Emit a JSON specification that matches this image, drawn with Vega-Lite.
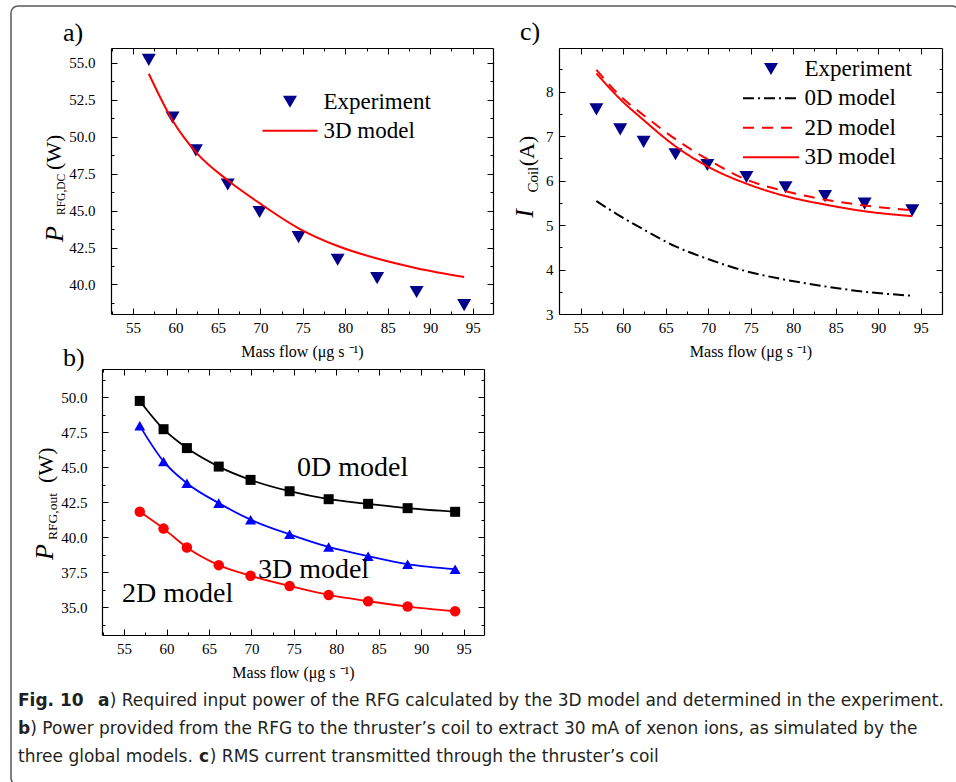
{
  "$schema": "https://vega.github.io/schema/vega-lite/v6.json",
  "width": 948,
  "height": 779,
  "autosize": {"type": "none"},
  "padding": {"left": 11, "top": 6, "right": -3, "bottom": -3},
  "config": {
    "view": {"stroke": "#58595b", "strokeWidth": 1.5, "cornerRadius": 7},
    "font": "Liberation Serif",
    "style": {"guide-label": {"font": "Liberation Serif", "fontSize": 15, "fill": "black"}, "guide-title": {"font": "Liberation Serif", "fontSize": 16, "fontWeight": "normal", "fill": "black"}},
    "axis": {"domainColor": "black", "domainWidth": 1.2, "tickColor": "black", "tickWidth": 1, "grid": false, "labelFont": "Liberation Serif", "labelFontSize": 15, "labelColor": "black", "labelFlush": false, "labelOverlap": false, "titleFont": "Liberation Serif", "titleFontSize": 16, "titleFontWeight": "normal", "titleColor": "black"},
    "legend": {"labelFont": "Liberation Serif", "labelFontSize": 23, "labelColor": "black", "labelLimit": 400}
  },
  "datasets": {
    "a": [
      {"series": "Experiment", "flow": 56.85, "value": 55.2},
      {"series": "Experiment", "flow": 59.65, "value": 51.3},
      {"series": "Experiment", "flow": 62.4, "value": 49.07},
      {"series": "Experiment", "flow": 66.15, "value": 46.76},
      {"series": "Experiment", "flow": 69.9, "value": 44.9},
      {"series": "Experiment", "flow": 74.5, "value": 43.2},
      {"series": "Experiment", "flow": 79.1, "value": 41.67},
      {"series": "Experiment", "flow": 83.75, "value": 40.43},
      {"series": "Experiment", "flow": 88.4, "value": 39.49},
      {"series": "Experiment", "flow": 94.0, "value": 38.6},
      {"series": "3D model", "flow": 56.85, "value": 54.26},
      {"series": "3D model", "flow": 59.65, "value": 51.1},
      {"series": "3D model", "flow": 62.4, "value": 48.96},
      {"series": "3D model", "flow": 66.15, "value": 47.05},
      {"series": "3D model", "flow": 69.9, "value": 45.5},
      {"series": "3D model", "flow": 74.5, "value": 43.8},
      {"series": "3D model", "flow": 79.1, "value": 42.6},
      {"series": "3D model", "flow": 83.75, "value": 41.75},
      {"series": "3D model", "flow": 88.4, "value": 41.1},
      {"series": "3D model", "flow": 94.0, "value": 40.5}
    ],
    "c": [
      {"series": "Experiment", "flow": 56.85, "value": 7.6},
      {"series": "Experiment", "flow": 59.65, "value": 7.15},
      {"series": "Experiment", "flow": 62.4, "value": 6.87},
      {"series": "Experiment", "flow": 66.15, "value": 6.59},
      {"series": "Experiment", "flow": 69.9, "value": 6.35},
      {"series": "Experiment", "flow": 74.5, "value": 6.08},
      {"series": "Experiment", "flow": 79.1, "value": 5.85},
      {"series": "Experiment", "flow": 83.75, "value": 5.65},
      {"series": "Experiment", "flow": 88.4, "value": 5.48},
      {"series": "Experiment", "flow": 94.0, "value": 5.33},
      {"series": "0D model", "flow": 56.85, "value": 5.54},
      {"series": "0D model", "flow": 59.65, "value": 5.2},
      {"series": "0D model", "flow": 62.4, "value": 4.9},
      {"series": "0D model", "flow": 66.15, "value": 4.52},
      {"series": "0D model", "flow": 69.9, "value": 4.24},
      {"series": "0D model", "flow": 74.5, "value": 3.96},
      {"series": "0D model", "flow": 79.1, "value": 3.77},
      {"series": "0D model", "flow": 83.75, "value": 3.62},
      {"series": "0D model", "flow": 88.4, "value": 3.5},
      {"series": "0D model", "flow": 94.0, "value": 3.41},
      {"series": "2D model", "flow": 56.85, "value": 8.49},
      {"series": "2D model", "flow": 59.65, "value": 7.9},
      {"series": "2D model", "flow": 62.4, "value": 7.47},
      {"series": "2D model", "flow": 66.15, "value": 6.93},
      {"series": "2D model", "flow": 69.9, "value": 6.48},
      {"series": "2D model", "flow": 74.5, "value": 6.02},
      {"series": "2D model", "flow": 79.1, "value": 5.76},
      {"series": "2D model", "flow": 83.75, "value": 5.57},
      {"series": "2D model", "flow": 88.4, "value": 5.44},
      {"series": "2D model", "flow": 94.0, "value": 5.33},
      {"series": "3D model", "flow": 56.85, "value": 8.41},
      {"series": "3D model", "flow": 59.65, "value": 7.83},
      {"series": "3D model", "flow": 62.4, "value": 7.36},
      {"series": "3D model", "flow": 66.15, "value": 6.77},
      {"series": "3D model", "flow": 69.9, "value": 6.32},
      {"series": "3D model", "flow": 74.5, "value": 5.93},
      {"series": "3D model", "flow": 79.1, "value": 5.65},
      {"series": "3D model", "flow": 83.75, "value": 5.46},
      {"series": "3D model", "flow": 88.4, "value": 5.31},
      {"series": "3D model", "flow": 94.0, "value": 5.2}
    ],
    "b": [
      {"series": "0D model", "flow": 56.85, "value": 49.72},
      {"series": "0D model", "flow": 59.65, "value": 47.7},
      {"series": "0D model", "flow": 62.4, "value": 46.35},
      {"series": "0D model", "flow": 66.15, "value": 45.03},
      {"series": "0D model", "flow": 69.9, "value": 44.08},
      {"series": "0D model", "flow": 74.5, "value": 43.27},
      {"series": "0D model", "flow": 79.1, "value": 42.7},
      {"series": "0D model", "flow": 83.75, "value": 42.37},
      {"series": "0D model", "flow": 88.4, "value": 42.06},
      {"series": "0D model", "flow": 94.0, "value": 41.8},
      {"series": "3D model", "flow": 56.85, "value": 47.94},
      {"series": "3D model", "flow": 59.65, "value": 45.4},
      {"series": "3D model", "flow": 62.4, "value": 43.84},
      {"series": "3D model", "flow": 66.15, "value": 42.42},
      {"series": "3D model", "flow": 69.9, "value": 41.24},
      {"series": "3D model", "flow": 74.5, "value": 40.19},
      {"series": "3D model", "flow": 79.1, "value": 39.29},
      {"series": "3D model", "flow": 83.75, "value": 38.63},
      {"series": "3D model", "flow": 88.4, "value": 38.06},
      {"series": "3D model", "flow": 94.0, "value": 37.7},
      {"series": "2D model", "flow": 56.85, "value": 41.8},
      {"series": "2D model", "flow": 59.65, "value": 40.6},
      {"series": "2D model", "flow": 62.4, "value": 39.25},
      {"series": "2D model", "flow": 66.15, "value": 37.99},
      {"series": "2D model", "flow": 69.9, "value": 37.23},
      {"series": "2D model", "flow": 74.5, "value": 36.5},
      {"series": "2D model", "flow": 79.1, "value": 35.86},
      {"series": "2D model", "flow": 83.75, "value": 35.41},
      {"series": "2D model", "flow": 88.4, "value": 35.03},
      {"series": "2D model", "flow": 94.0, "value": 34.7}
    ],
    "notes": [
      {"panel": "a", "role": "label", "text": "a)", "x": 46.75, "y": 56.47},
      {"panel": "a", "role": "symbol", "text": "P", "x": 46.71, "y": 42.87},
      {"panel": "a", "role": "sub", "text": "RFG,DC", "x": 46.98, "y": 44.7},
      {"panel": "a", "role": "unit", "text": "(W)", "x": 46.51, "y": 47.74},
      {"panel": "c", "role": "label", "text": "c)", "x": 47.86, "y": 9.16},
      {"panel": "c", "role": "symbol", "text": "I", "x": 49.39, "y": 5.166},
      {"panel": "c", "role": "sub", "text": "Coil", "x": 49.98, "y": 5.73},
      {"panel": "c", "role": "unit", "text": "(A)", "x": 49.51, "y": 6.32},
      {"panel": "b", "role": "label", "text": "b)", "x": 47.81, "y": 52.21},
      {"panel": "b", "role": "symbol", "text": "P", "x": 46.63, "y": 38.36},
      {"panel": "b", "role": "sub", "text": "RFG,out", "x": 47.1, "y": 39.79},
      {"panel": "b", "role": "unit", "text": "(W)", "x": 46.63, "y": 43.86},
      {"panel": "b", "role": "series", "text": "0D model", "x": 75.37, "y": 44.36},
      {"panel": "b", "role": "series", "text": "3D model", "x": 70.77, "y": 37.07},
      {"panel": "b", "role": "series", "text": "2D model", "x": 54.76, "y": 35.36}
    ],
    "caption": [
      {"line": 1, "part": "fig", "text": "Fig. 10"},
      {"line": 1, "part": "key", "text": "a"},
      {"line": 1, "part": "body", "text": ") Required input power of the RFG calculated by the 3D model and determined in the experiment."},
      {"line": 2, "part": "key", "text": "b"},
      {"line": 2, "part": "body", "text": ") Power provided from the RFG to the thruster’s coil to extract 30 mA of xenon ions, as simulated by the"},
      {"line": 3, "part": "lead", "text": "three global models."},
      {"line": 3, "part": "key", "text": "c"},
      {"line": 3, "part": "body", "text": ") RMS current transmitted through the thruster’s coil"}
    ]
  },
  "layer": [
    {
      "layer": [
        {
          "data": {"name": "a"},
          "transform": [{"filter": "datum.series === 'Experiment'"}],
          "mark": {"type": "point", "shape": "triangle-down", "filled": true, "size": 196, "opacity": 1},
          "encoding": {
            "x": {"field": "flow", "type": "quantitative", "scale": {"domain": [52.4, 97.4], "range": [100, 482], "nice": false, "zero": false},
              "axis": {"orient": "bottom", "offset": -471, "values": [55, 60, 65, 70, 75, 80, 85, 90, 95], "tickSize": -6, "format": "d", "labelFont": "Liberation Serif", "labelFontSize": 15, "labelPadding": 12, "encode": {"labels": {"font": {"value": "Liberation Serif"}, "fontSize": {"value": 15}}}, "title": "Mass flow (μg s ⁻¹)", "titleFont": "Liberation Serif", "titleFontSize": 16, "titlePadding": 8}},
            "y": {"field": "value", "type": "quantitative", "scale": {"domain": [38, 56], "range": [308, 42], "nice": false, "zero": false},
              "axis": {"orient": "left", "offset": -100, "values": [40, 42.5, 45, 47.5, 50, 52.5, 55], "tickSize": -6, "format": ".1f", "labelFont": "Liberation Serif", "labelFontSize": 15, "labelPadding": 22, "encode": {"labels": {"font": {"value": "Liberation Serif"}, "fontSize": {"value": 15}}}, "title": null}},
            "color": {"field": "series", "type": "nominal", "scale": {"domain": ["Experiment"], "range": ["#00008b"]},
              "legend": {"orient": "none", "legendX": 267.5, "legendY": 84.2, "title": null, "labelOffset": 22, "padding": 0, "symbolSize": 196, "symbolType": "triangle-down", "symbolStrokeWidth": 0}}
          }
        },
        {
          "data": {"name": "a"},
          "transform": [{"filter": "datum.series === '3D model'"}],
          "mark": {"type": "line", "strokeWidth": 2, "interpolate": "monotone"},
          "encoding": {
            "x": {"field": "flow", "type": "quantitative", "scale": {"domain": [52.4, 97.4], "range": [100, 482], "nice": false, "zero": false},
              "axis": {"orient": "top", "offset": -42, "values": [55, 60, 65, 70, 75, 80, 85, 90, 95], "tickSize": -6, "labels": false, "title": null}},
            "y": {"field": "value", "type": "quantitative", "scale": {"domain": [38, 56], "range": [308, 42], "nice": false, "zero": false},
              "axis": {"orient": "right", "offset": -466, "values": [40, 42.5, 45, 47.5, 50, 52.5, 55], "tickSize": -6, "labels": false, "title": null}},
            "stroke": {"field": "series", "type": "nominal", "scale": {"domain": ["3D model"], "range": ["#ff0000"]},
              "legend": {"orient": "none", "legendX": 267.5, "legendY": 113.2, "title": null, "labelOffset": 22, "padding": 0, "symbolSize": 400, "symbolType": "M-2.75,0L2.75,0", "symbolStrokeWidth": 2}}
          }
        },
        {
          "data": {"name": "notes"},
          "transform": [{"filter": "datum.panel === 'a' && datum.role === 'label'"}],
          "mark": {"type": "text", "font": "Liberation Serif", "fontSize": 26, "align": "left", "baseline": "alphabetic", "color": "black"},
          "encoding": {
            "x": {"field": "x", "type": "quantitative", "scale": {"domain": [52.4, 97.4], "range": [100, 482], "nice": false, "zero": false},
              "axis": {"orient": "bottom", "offset": -471, "values": [52.5, 57.5, 62.5, 67.5, 72.5, 77.5, 82.5, 87.5, 92.5], "tickSize": -3, "labels": false, "domain": false, "title": null}},
            "y": {"field": "y", "type": "quantitative", "scale": {"domain": [38, 56], "range": [308, 42], "nice": false, "zero": false},
              "axis": {"orient": "left", "offset": -100, "values": [38.75, 41.25, 43.75, 46.25, 48.75, 51.25, 53.75], "tickSize": -3, "labels": false, "domain": false, "title": null}},
            "text": {"field": "text"}
          }
        },
        {
          "data": {"name": "notes"},
          "transform": [{"filter": "datum.panel === 'a' && datum.role === 'symbol'"}],
          "mark": {"type": "text", "font": "Liberation Serif", "fontSize": 26, "fontStyle": "italic", "angle": 270, "align": "left", "baseline": "alphabetic", "color": "black"},
          "encoding": {
            "x": {"field": "x", "type": "quantitative",
              "axis": {"orient": "top", "offset": -42, "values": [52.5, 57.5, 62.5, 67.5, 72.5, 77.5, 82.5, 87.5, 92.5], "tickSize": -3, "labels": false, "domain": false, "title": null}},
            "y": {"field": "y", "type": "quantitative",
              "axis": {"orient": "right", "offset": -466, "values": [38.75, 41.25, 43.75, 46.25, 48.75, 51.25, 53.75], "tickSize": -3, "labels": false, "domain": false, "title": null}},
            "text": {"field": "text"}
          }
        },
        {
          "data": {"name": "notes"},
          "transform": [{"filter": "datum.panel === 'a' && datum.role === 'sub'"}],
          "mark": {"type": "text", "font": "Liberation Serif", "fontSize": 11.5, "angle": 270, "align": "left", "baseline": "alphabetic", "color": "black"},
          "encoding": {
            "x": {"field": "x", "type": "quantitative", "axis": null},
            "y": {"field": "y", "type": "quantitative", "axis": null},
            "text": {"field": "text"}
          }
        },
        {
          "data": {"name": "notes"},
          "transform": [{"filter": "datum.panel === 'a' && datum.role === 'unit'"}],
          "mark": {"type": "text", "font": "Liberation Serif", "fontSize": 22, "angle": 270, "align": "left", "baseline": "alphabetic", "color": "black"},
          "encoding": {
            "x": {"field": "x", "type": "quantitative", "axis": null},
            "y": {"field": "y", "type": "quantitative", "axis": null},
            "text": {"field": "text"}
          }
        }
      ],
      "resolve": {"axis": {"x": "independent", "y": "independent"}}
    },
    {
      "layer": [
        {
          "data": {"name": "c"},
          "transform": [{"filter": "datum.series === 'Experiment'"}],
          "mark": {"type": "point", "shape": "triangle-down", "filled": true, "size": 196, "opacity": 1},
          "encoding": {
            "x": {"field": "flow", "type": "quantitative", "scale": {"domain": [52.45, 97.5], "range": [548, 931], "nice": false, "zero": false},
              "axis": {"orient": "bottom", "offset": -471, "values": [55, 60, 65, 70, 75, 80, 85, 90, 95], "tickSize": -6, "format": "d", "labelFont": "Liberation Serif", "labelFontSize": 15, "labelPadding": 12, "encode": {"labels": {"font": {"value": "Liberation Serif"}, "fontSize": {"value": 15}}}, "title": "Mass flow (μg s ⁻¹)", "titleFont": "Liberation Serif", "titleFontSize": 16, "titlePadding": 8}},
            "y": {"field": "value", "type": "quantitative", "scale": {"domain": [3, 8.98], "range": [308, 42], "nice": false, "zero": false},
              "axis": {"orient": "left", "offset": -548, "values": [3, 4, 5, 6, 7, 8], "tickSize": -6, "format": "d", "labelFont": "Liberation Serif", "labelFontSize": 15, "labelPadding": 12, "encode": {"labels": {"font": {"value": "Liberation Serif"}, "fontSize": {"value": 15}}}, "title": null}},
            "color": {"field": "series", "type": "nominal", "scale": {"domain": ["Experiment"], "range": ["#00008b"]},
              "legend": {"orient": "none", "legendX": 748.5, "legendY": 51.5, "title": null, "labelOffset": 22, "padding": 0, "symbolSize": 196, "symbolType": "triangle-down", "symbolStrokeWidth": 0}}
          }
        },
        {
          "data": {"name": "c"},
          "transform": [{"filter": "datum.series !== 'Experiment'"}],
          "mark": {"type": "line", "strokeWidth": 2, "interpolate": "monotone"},
          "encoding": {
            "x": {"field": "flow", "type": "quantitative", "scale": {"domain": [52.45, 97.5], "range": [548, 931], "nice": false, "zero": false},
              "axis": {"orient": "top", "offset": -42, "values": [55, 60, 65, 70, 75, 80, 85, 90, 95], "tickSize": -6, "labels": false, "title": null}},
            "y": {"field": "value", "type": "quantitative", "scale": {"domain": [3, 8.98], "range": [308, 42], "nice": false, "zero": false},
              "axis": {"orient": "right", "offset": -17, "values": [3, 4, 5, 6, 7, 8], "tickSize": -6, "labels": false, "title": null}},
            "stroke": {"field": "series", "type": "nominal", "scale": {"domain": ["0D model", "2D model", "3D model"], "range": ["#000000", "#ff0000", "#ff0000"]},
              "legend": {"orient": "none", "legendX": 748.5, "legendY": 80.8, "title": null, "labelOffset": 22, "rowPadding": 5.5, "padding": 0, "symbolSize": 400, "symbolType": "M-2.8,0L2.8,0", "symbolStrokeWidth": 2}},
            "strokeDash": {"field": "series", "type": "nominal", "scale": {"domain": ["0D model", "2D model", "3D model"], "range": [[11, 4, 2, 4], [11, 8], [1, 0]]},
              "legend": {"orient": "none", "legendX": 748.5, "legendY": 80.8, "title": null, "labelOffset": 22, "rowPadding": 5.5, "padding": 0, "symbolSize": 400, "symbolType": "M-2.8,0L2.8,0", "symbolStrokeWidth": 2}}
          }
        },
        {
          "data": {"name": "notes"},
          "transform": [{"filter": "datum.panel === 'c' && datum.role === 'label'"}],
          "mark": {"type": "text", "font": "Liberation Serif", "fontSize": 26, "align": "left", "baseline": "alphabetic", "color": "black"},
          "encoding": {
            "x": {"field": "x", "type": "quantitative", "scale": {"domain": [52.45, 97.5], "range": [548, 931], "nice": false, "zero": false},
              "axis": {"orient": "bottom", "offset": -471, "values": [52.5, 57.5, 62.5, 67.5, 72.5, 77.5, 82.5, 87.5, 92.5], "tickSize": -3, "labels": false, "domain": false, "title": null}},
            "y": {"field": "y", "type": "quantitative", "scale": {"domain": [3, 8.98], "range": [308, 42], "nice": false, "zero": false},
              "axis": {"orient": "left", "offset": -548, "values": [3.5, 4.5, 5.5, 6.5, 7.5, 8.5], "tickSize": -3, "labels": false, "domain": false, "title": null}},
            "text": {"field": "text"}
          }
        },
        {
          "data": {"name": "notes"},
          "transform": [{"filter": "datum.panel === 'c' && datum.role === 'symbol'"}],
          "mark": {"type": "text", "font": "Liberation Serif", "fontSize": 26, "fontStyle": "italic", "angle": 270, "align": "left", "baseline": "alphabetic", "color": "black"},
          "encoding": {
            "x": {"field": "x", "type": "quantitative",
              "axis": {"orient": "top", "offset": -42, "values": [52.5, 57.5, 62.5, 67.5, 72.5, 77.5, 82.5, 87.5, 92.5], "tickSize": -3, "labels": false, "domain": false, "title": null}},
            "y": {"field": "y", "type": "quantitative",
              "axis": {"orient": "right", "offset": -17, "values": [3.5, 4.5, 5.5, 6.5, 7.5, 8.5], "tickSize": -3, "labels": false, "domain": false, "title": null}},
            "text": {"field": "text"}
          }
        },
        {
          "data": {"name": "notes"},
          "transform": [{"filter": "datum.panel === 'c' && datum.role === 'sub'"}],
          "mark": {"type": "text", "font": "Liberation Serif", "fontSize": 15, "angle": 270, "align": "left", "baseline": "alphabetic", "color": "black"},
          "encoding": {
            "x": {"field": "x", "type": "quantitative", "axis": null},
            "y": {"field": "y", "type": "quantitative", "axis": null},
            "text": {"field": "text"}
          }
        },
        {
          "data": {"name": "notes"},
          "transform": [{"filter": "datum.panel === 'c' && datum.role === 'unit'"}],
          "mark": {"type": "text", "font": "Liberation Serif", "fontSize": 22, "angle": 270, "align": "left", "baseline": "alphabetic", "color": "black"},
          "encoding": {
            "x": {"field": "x", "type": "quantitative", "axis": null},
            "y": {"field": "y", "type": "quantitative", "axis": null},
            "text": {"field": "text"}
          }
        }
      ],
      "resolve": {"axis": {"x": "independent", "y": "independent"}}
    },
    {
      "layer": [
        {
          "data": {"name": "b"},
          "mark": {"type": "line", "strokeWidth": 1.8, "interpolate": "monotone"},
          "encoding": {
            "x": {"field": "flow", "type": "quantitative", "scale": {"domain": [52.4, 97.4], "range": [91, 473], "nice": false, "zero": false},
              "axis": {"orient": "bottom", "offset": -150, "values": [55, 60, 65, 70, 75, 80, 85, 90, 95], "tickSize": -6, "format": "d", "labelFont": "Liberation Serif", "labelFontSize": 15, "labelPadding": 12, "encode": {"labels": {"font": {"value": "Liberation Serif"}, "fontSize": {"value": 15}}}, "title": "Mass flow (μg s ⁻¹)", "titleFont": "Liberation Serif", "titleFontSize": 16, "titlePadding": 8}},
            "y": {"field": "value", "type": "quantitative", "scale": {"domain": [33, 52], "range": [629, 363], "nice": false, "zero": false},
              "axis": {"orient": "left", "offset": -91, "values": [35, 37.5, 40, 42.5, 45, 47.5, 50], "tickSize": -6, "format": ".1f", "labelFont": "Liberation Serif", "labelFontSize": 15, "labelPadding": 21, "encode": {"labels": {"font": {"value": "Liberation Serif"}, "fontSize": {"value": 15}}}, "title": null}},
            "color": {"field": "series", "type": "nominal", "scale": {"domain": ["0D model", "2D model", "3D model"], "range": ["#000000", "#ff0000", "#0000ff"]}, "legend": null}
          }
        },
        {
          "data": {"name": "b"},
          "mark": {"type": "point", "filled": true, "opacity": 1},
          "encoding": {
            "x": {"field": "flow", "type": "quantitative", "scale": {"domain": [52.4, 97.4], "range": [91, 473], "nice": false, "zero": false},
              "axis": {"orient": "top", "offset": -363, "values": [55, 60, 65, 70, 75, 80, 85, 90, 95], "tickSize": -6, "labels": false, "title": null}},
            "y": {"field": "value", "type": "quantitative", "scale": {"domain": [33, 52], "range": [629, 363], "nice": false, "zero": false},
              "axis": {"orient": "right", "offset": -475, "values": [35, 37.5, 40, 42.5, 45, 47.5, 50], "tickSize": -6, "labels": false, "title": null}},
            "color": {"field": "series", "type": "nominal", "scale": {"domain": ["0D model", "2D model", "3D model"], "range": ["#000000", "#ff0000", "#0000ff"]}, "legend": null},
            "shape": {"field": "series", "type": "nominal", "scale": {"domain": ["0D model", "2D model", "3D model"], "range": ["square", "circle", "triangle-up"]}, "legend": null},
            "size": {"field": "series", "type": "nominal", "scale": {"domain": ["0D model", "2D model", "3D model"], "range": [100, 121, 170]}, "legend": null}
          }
        },
        {
          "data": {"name": "notes"},
          "transform": [{"filter": "datum.panel === 'b' && datum.role === 'label'"}],
          "mark": {"type": "text", "font": "Liberation Serif", "fontSize": 26, "align": "left", "baseline": "alphabetic", "color": "black"},
          "encoding": {
            "x": {"field": "x", "type": "quantitative", "scale": {"domain": [52.4, 97.4], "range": [91, 473], "nice": false, "zero": false},
              "axis": {"orient": "bottom", "offset": -150, "values": [52.5, 57.5, 62.5, 67.5, 72.5, 77.5, 82.5, 87.5, 92.5], "tickSize": -3, "labels": false, "domain": false, "title": null}},
            "y": {"field": "y", "type": "quantitative", "scale": {"domain": [33, 52], "range": [629, 363], "nice": false, "zero": false},
              "axis": {"orient": "left", "offset": -91, "values": [33.75, 36.25, 38.75, 41.25, 43.75, 46.25, 48.75, 51.25], "tickSize": -3, "labels": false, "domain": false, "title": null}},
            "text": {"field": "text"}
          }
        },
        {
          "data": {"name": "notes"},
          "transform": [{"filter": "datum.panel === 'b' && datum.role === 'series'"}],
          "mark": {"type": "text", "font": "Liberation Serif", "fontSize": 28, "align": "left", "baseline": "alphabetic", "color": "black"},
          "encoding": {
            "x": {"field": "x", "type": "quantitative",
              "axis": {"orient": "top", "offset": -363, "values": [52.5, 57.5, 62.5, 67.5, 72.5, 77.5, 82.5, 87.5, 92.5], "tickSize": -3, "labels": false, "domain": false, "title": null}},
            "y": {"field": "y", "type": "quantitative",
              "axis": {"orient": "right", "offset": -475, "values": [33.75, 36.25, 38.75, 41.25, 43.75, 46.25, 48.75, 51.25], "tickSize": -3, "labels": false, "domain": false, "title": null}},
            "text": {"field": "text"}
          }
        },
        {
          "data": {"name": "notes"},
          "transform": [{"filter": "datum.panel === 'b' && datum.role === 'symbol'"}],
          "mark": {"type": "text", "font": "Liberation Serif", "fontSize": 26, "fontStyle": "italic", "angle": 270, "align": "left", "baseline": "alphabetic", "color": "black"},
          "encoding": {
            "x": {"field": "x", "type": "quantitative", "axis": null},
            "y": {"field": "y", "type": "quantitative", "axis": null},
            "text": {"field": "text"}
          }
        },
        {
          "data": {"name": "notes"},
          "transform": [{"filter": "datum.panel === 'b' && datum.role === 'sub'"}],
          "mark": {"type": "text", "font": "Liberation Serif", "fontSize": 13.5, "angle": 270, "align": "left", "baseline": "alphabetic", "color": "black"},
          "encoding": {
            "x": {"field": "x", "type": "quantitative", "axis": null},
            "y": {"field": "y", "type": "quantitative", "axis": null},
            "text": {"field": "text"}
          }
        },
        {
          "data": {"name": "notes"},
          "transform": [{"filter": "datum.panel === 'b' && datum.role === 'unit'"}],
          "mark": {"type": "text", "font": "Liberation Serif", "fontSize": 22, "angle": 270, "align": "left", "baseline": "alphabetic", "color": "black"},
          "encoding": {
            "x": {"field": "x", "type": "quantitative", "axis": null},
            "y": {"field": "y", "type": "quantitative", "axis": null},
            "text": {"field": "text"}
          }
        }
      ],
      "resolve": {"axis": {"x": "independent", "y": "independent"}}
    },
    {
      "data": {"name": "caption"},
      "encoding": {
        "x": {"datum": 0, "type": "quantitative", "scale": {"domain": [0, 1], "range": [7, 934]}, "axis": null},
        "y": {"field": "line", "type": "quantitative", "scale": {"domain": [1, 3], "range": [700, 756]}, "axis": null},
        "text": {"field": "text"}
      },
      "layer": [
        {"transform": [{"filter": "datum.part === 'fig'"}], "mark": {"type": "text", "font": "DejaVu Sans", "fontSize": 17, "fontWeight": "bold", "align": "left", "baseline": "alphabetic", "color": "#231f20"}},
        {"transform": [{"filter": "datum.part === 'key' && datum.line === 1"}], "mark": {"type": "text", "font": "DejaVu Sans", "fontSize": 17, "fontWeight": "bold", "align": "left", "baseline": "alphabetic", "color": "#231f20", "dx": 80}},
        {"transform": [{"filter": "datum.part === 'body' && datum.line === 1"}], "mark": {"type": "text", "font": "DejaVu Sans", "fontSize": 17, "align": "left", "baseline": "alphabetic", "color": "#231f20", "dx": 91.7}},
        {"transform": [{"filter": "datum.part === 'key' && datum.line === 2"}], "mark": {"type": "text", "font": "DejaVu Sans", "fontSize": 17, "fontWeight": "bold", "align": "left", "baseline": "alphabetic", "color": "#231f20"}},
        {"transform": [{"filter": "datum.part === 'body' && datum.line === 2"}], "mark": {"type": "text", "font": "DejaVu Sans", "fontSize": 17, "align": "left", "baseline": "alphabetic", "color": "#231f20", "dx": 12.2}},
        {"transform": [{"filter": "datum.part === 'lead'"}], "mark": {"type": "text", "font": "DejaVu Sans", "fontSize": 17, "align": "left", "baseline": "alphabetic", "color": "#231f20"}},
        {"transform": [{"filter": "datum.part === 'key' && datum.line === 3"}], "mark": {"type": "text", "font": "DejaVu Sans", "fontSize": 17, "fontWeight": "bold", "align": "left", "baseline": "alphabetic", "color": "#231f20", "dx": 181}},
        {"transform": [{"filter": "datum.part === 'body' && datum.line === 3"}], "mark": {"type": "text", "font": "DejaVu Sans", "fontSize": 17, "align": "left", "baseline": "alphabetic", "color": "#231f20", "dx": 191.8}}
      ]
    }
  ],
  "resolve": {
    "scale": {"x": "independent", "y": "independent", "color": "independent", "stroke": "independent", "shape": "independent", "size": "independent", "strokeDash": "independent"},
    "axis": {"x": "independent", "y": "independent"},
    "legend": {"color": "independent", "stroke": "independent", "strokeDash": "independent"}
  }
}
